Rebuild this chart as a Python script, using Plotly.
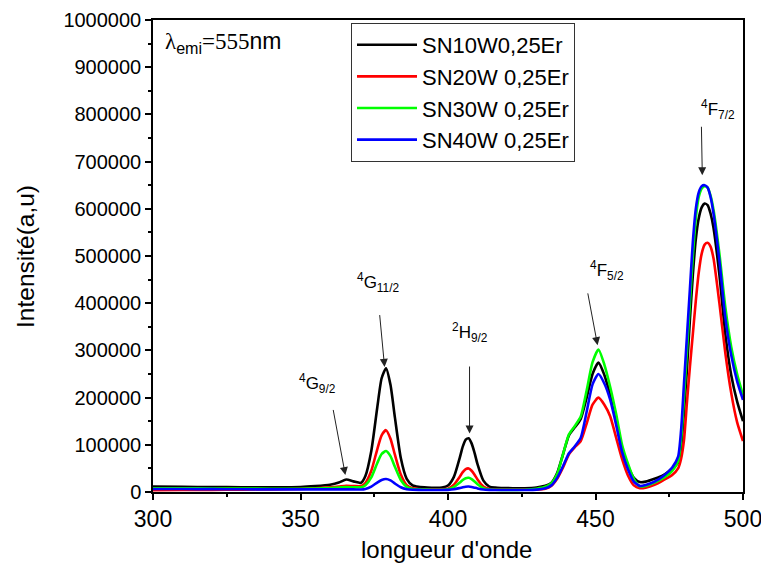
import plotly.graph_objects as go

wavelength = [300, 310, 320, 330, 340, 350, 355, 360,
              363, 365.5, 368, 370.5, 372, 374, 376, 377.5, 379, 380.5,
              382, 384, 386, 388, 390, 393, 396, 398, 400, 402,
              404, 405, 406, 407, 408, 409, 410, 412, 414, 416,
              418, 422, 426, 430, 433, 435, 437, 439, 441, 443,
              445, 447, 449, 451, 453, 455, 457, 459, 461, 463,
              465, 467, 470, 473, 476, 478, 479, 480, 481, 482,
              483, 484, 485, 486, 487, 488, 489, 490, 492, 494,
              496, 498, 500]

sn10w = [11500, 11000, 10500, 10000, 10000, 10500, 12500, 15500,
         20000, 26500, 22500, 19500, 34000, 87000, 178000, 241000, 262000, 227000,
         158000, 72000, 28000, 14000, 11000, 9500, 9000, 9600, 13800, 32000,
         73000, 96000, 111000, 114000, 103000, 83000, 59000, 24000, 11500, 9200,
         8500, 8000, 8000, 9500, 13000, 19000, 40000, 80000, 120000, 137000,
         155000, 200000, 250000, 274000, 248000, 205000, 152000, 92000, 55000, 30000,
         21000, 22000, 28000, 36000, 50000, 62000, 95000, 170000, 260000, 365000,
         460000, 535000, 580000, 603000, 611000, 608000, 590000, 560000, 460000, 335000,
         248000, 192000, 150000]

sn20w = [4000, 4200, 4500, 5000, 5500, 6500, 8000, 10000,
         11500, 13000, 12500, 12500, 19000, 45000, 90000, 120000, 131000, 113000,
         79000, 37000, 14500, 8000, 6500, 5800, 5500, 5600, 7200, 15500,
         32500, 42000, 48500, 50000, 45000, 36500, 26500, 11800, 6500, 5400,
         5200, 5000, 5000, 5000, 7000, 13000, 28000, 52000, 80000, 95000,
         108000, 145000, 185000, 200000, 185000, 160000, 115000, 70000, 35000, 14000,
         8000, 9000, 15000, 25000, 36000, 50000, 70000, 110000, 190000, 265000,
         335000, 405000, 465000, 505000, 524000, 528000, 520000, 495000, 400000, 295000,
         210000, 148000, 108000]

sn30w = [8000, 7800, 7500, 7200, 7000, 7000, 7500, 8500,
         9500, 10500, 10000, 10000, 14500, 31000, 61000, 80500, 87000, 76000,
         53500, 25500, 11000, 6500, 5500, 5000, 4800, 4800, 5900, 10300,
         20000, 25400, 29200, 30000, 27200, 22200, 16600, 8200, 5300, 4700,
         4500, 4500, 4800, 7000, 11000, 18000, 38000, 80000, 122000, 140000,
         160000, 215000, 275000, 302000, 270000, 222000, 165000, 100000, 60000, 28000,
         12000, 13000, 20000, 30000, 45000, 65000, 110000, 200000, 300000, 400000,
         500000, 580000, 625000, 643000, 648000, 645000, 628000, 598000, 505000, 392000,
         308000, 250000, 205000]

sn40w = [6500, 6300, 6000, 5800, 5500, 5500, 5500, 5500,
         5500, 5500, 5500, 5200, 6500, 11500, 20000, 25500, 27500, 24500,
         18000, 10000, 6000, 4800, 4500, 4300, 4200, 4200, 4500, 5800,
         8500, 10000, 11200, 11500, 10700, 9200, 7600, 5200, 4400, 4200,
         4200, 4200, 4300, 5000, 8000, 14000, 30000, 55000, 82000, 97000,
         115000, 170000, 228000, 250000, 230000, 195000, 142000, 85000, 48000, 22000,
         13000, 15000, 22000, 34000, 52000, 75000, 130000, 230000, 330000, 430000,
         530000, 600000, 635000, 648000, 650000, 645000, 625000, 590000, 490000, 370000,
         290000, 235000, 195000]

series_names = ["SN10W0,25Er", "SN20W 0,25Er", "SN30W 0,25Er", "SN40W 0,25Er"]
series_values = [sn10w, sn20w, sn30w, sn40w]
series_colors = ["#000000", "#ff0000", "#00ff00", "#0000ff"]

# transition labels: (label, arrow head x, head y, tail x, tail y, label x, label y)
transitions = [
    ("<sup>4</sup>G<sub>9/2</sub>", 365.2, 36000, 361.0, 177000, 355.8, 229000),
    ("<sup>4</sup>G<sub>11/2</sub>", 378.5, 265000, 376.8, 378000, 376.5, 443000),
    ("<sup>2</sup>H<sub>9/2</sub>", 407.3, 124000, 407.3, 269000, 407.3, 337000),
    ("<sup>4</sup>F<sub>5/2</sub>", 450.7, 311000, 447.3, 424000, 453.8, 470000),
    ("<sup>4</sup>F<sub>7/2</sub>", 486.2, 671000, 485.9, 777000, 491.5, 811000),
]

fig = go.Figure()
for name, vals, col in zip(series_names, series_values, series_colors):
    fig.add_trace(go.Scatter(x=wavelength, y=vals, name=name, mode="lines",
                             line=dict(color=col, width=2.6, shape="spline", smoothing=0.6)))

annotations = []
for lab, hx, hy, tx, ty, lx, ly in transitions:
    annotations.append(dict(x=hx, y=hy, ax=tx, ay=ty, xref="x", yref="y", axref="x", ayref="y",
                            text="", showarrow=True, arrowhead=2, arrowsize=1.6, arrowwidth=1,
                            arrowcolor="#222222", standoff=0, startstandoff=0))
    annotations.append(dict(x=lx, y=ly, xref="x", yref="y", text=lab, showarrow=False,
                            font=dict(size=17, color="black"), xanchor="center", yanchor="middle"))

annotations.append(dict(x=0.017, y=0.953, xref="paper", yref="paper", xanchor="left", yanchor="middle",
                        showarrow=False,
                        text='<span style="font-family:Liberation Serif">λ</span><sub>emi</sub>'
                             '<span style="font-family:Liberation Serif">=555</span>nm',
                        font=dict(size=23, color="black")))
annotations.append(dict(x=-0.217, y=0.5, xref="paper", yref="paper", textangle=-90, showarrow=False,
                        text="Intensité(a,u)", font=dict(size=24.5, color="black"),
                        xanchor="center", yanchor="middle"))
annotations.append(dict(x=0.498, y=-0.121, xref="paper", yref="paper", showarrow=False,
                        text="longueur d'onde", font=dict(size=24, color="black"),
                        xanchor="center", yanchor="middle"))

fig.update_layout(
    width=761, height=572,
    margin=dict(l=153, r=18, t=20, b=80, autoexpand=False),
    plot_bgcolor="white", paper_bgcolor="white",
    font=dict(family="Liberation Sans, Arial, sans-serif", color="black"),
    showlegend=True,
    legend=dict(x=0.3356, y=0.9936, xanchor="left", yanchor="top",
                bordercolor="#333333", borderwidth=1, bgcolor="white",
                font=dict(size=22, color="black"), itemwidth=60, tracegroupgap=0),
    annotations=annotations,
)
fig.update_xaxes(range=[300, 500], tick0=300, dtick=50, ticks="outside", ticklen=6, tickwidth=1.5,
                 tickcolor="black", showline=True, linecolor="black", linewidth=1.5, mirror=True,
                 showgrid=False, zeroline=False, tickfont=dict(size=23), automargin=False,
                 ticklabeloverflow="allow",
                 minor=dict(dtick=25, ticks="outside", ticklen=3, tickwidth=1.5, tickcolor="black", showgrid=False))
fig.update_yaxes(range=[0, 1000000], tick0=0, dtick=100000, tickformat="d", ticks="outside", ticklen=6,
                 tickwidth=1.5, tickcolor="black", showline=True, linecolor="black", linewidth=1.5, mirror=True,
                 showgrid=False, zeroline=False, tickfont=dict(size=20), automargin=False,
                 ticklabeloverflow="allow",
                 minor=dict(dtick=50000, ticks="outside", ticklen=3, tickwidth=1.5, tickcolor="black", showgrid=False))

fig.write_html("out.html")
